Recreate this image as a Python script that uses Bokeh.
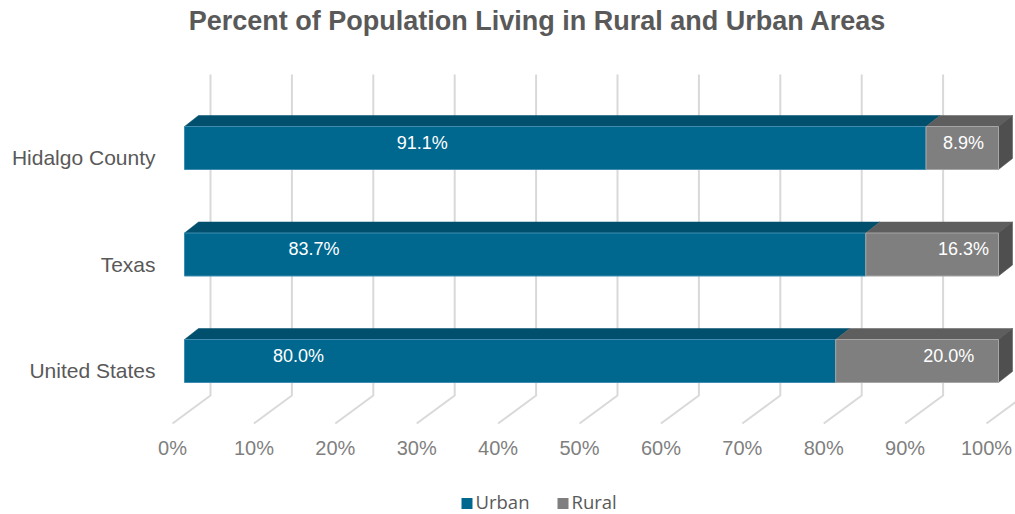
from bokeh.plotting import figure
from bokeh.models import Range1d
from bokeh.core.properties import value
from bokeh.embed import file_html
from bokeh.resources import INLINE

# ---- data ----
categories = ["United States", "Texas", "Hidalgo County"]
urban = [80.0, 83.7, 91.1]
rural = [20.0, 16.3, 8.9]
urban_labels = ["80.0%", "83.7%", "91.1%"]
rural_labels = ["20.0%", "16.3%", "8.9%"]
# where Excel placed the data labels (percent along the bar)
urban_label_pos = [14.0, 15.9, 29.2]
rural_label_pos = [93.9, 95.7, 95.7]
ticks = [0, 10, 20, 30, 40, 50, 60, 70, 80, 90, 100]
tick_labels = ["0%", "10%", "20%", "30%", "40%", "50%", "60%", "70%", "80%", "90%", "100%"]
series = ["Urban", "Rural"]

# ---- layout constants (pixels in the picture) ----
W, H = 1015, 514
ORG = 0                   # picture px of canvas left/top
SX, X0 = 8.14, 172.0      # px per percent, px of 0% on floor front edge
SY, Y0 = 106.5, 360.5     # px per category step, px of first category centre

def px2x(px):
    return (px - X0) / SX

def px2y(py):
    return (Y0 - py) / SY

FLOOR_DX = 38 / SX
FLOOR_DY = 28 / SY
BAR_OFF = 12 / SX
BAR_DX = 14 / SX
BAR_DY = 11 / SY
HALF = 21.5 / SY
floor_front = px2y(423)
floor_back = px2y(395)
grid_top = px2y(74)

URBAN_FRONT, URBAN_TOP = "#00688F", "#004F6C"
RURAL_FRONT, RURAL_TOP, RURAL_SIDE = "#7F7F7F", "#5E5E5E", "#4F4F4F"
GRID = "#D9D9D9"
FONT = value("Liberation Sans")

p = figure(width=W, height=H, output_backend="svg", toolbar_location=None,
           x_range=Range1d(px2x(ORG), px2x(ORG + W)),
           y_range=Range1d(px2y(ORG + H), px2y(ORG)),
           min_border=0, outline_line_color=None)
p.axis.visible = False
p.grid.visible = False

# back wall + floor grid lines
xs, ys = [], []
for t in ticks:
    xs.append([t, t + FLOOR_DX, t + FLOOR_DX])
    ys.append([floor_front, floor_back, grid_top])
p.multi_line(xs, ys, line_color=GRID, line_width=2)

# bars
for i, cat in enumerate(categories):
    c = i
    bot, top = c - HALF, c + HALF
    u0 = BAR_OFF
    u1 = BAR_OFF + urban[i]
    r1 = u1 + rural[i]
    # top faces
    p.patch([u0, u1, u1 + BAR_DX, u0 + BAR_DX], [top, top, top + BAR_DY, top + BAR_DY],
            fill_color=URBAN_TOP, line_color=URBAN_TOP, line_width=0.5)
    p.patch([u1, r1, r1 + BAR_DX, u1 + BAR_DX], [top, top, top + BAR_DY, top + BAR_DY],
            fill_color=RURAL_TOP, line_color=RURAL_TOP, line_width=0.5)
    # side face
    p.patch([r1, r1 + BAR_DX, r1 + BAR_DX, r1], [top, top + BAR_DY, bot + BAR_DY, bot],
            fill_color=RURAL_SIDE, line_color=RURAL_SIDE, line_width=0.5)
    # front faces
    p.quad(left=[u0], right=[u1], bottom=[bot], top=[top],
           fill_color=URBAN_FRONT, line_color="#3E8DB0", line_width=1)
    p.quad(left=[u1], right=[r1], bottom=[bot], top=[top],
           fill_color=RURAL_FRONT, line_color="#A6A6A6", line_width=1)

# data labels
ly = [i + BAR_DY / 2 for i in range(len(categories))]
p.text([BAR_OFF + v for v in urban_label_pos], ly, text=urban_labels,
       text_font=FONT, text_font_size="18px", text_color="white",
       text_align="center", text_baseline="middle")
p.text([BAR_OFF + v for v in rural_label_pos], ly, text=rural_labels,
       text_font=FONT, text_font_size="18px", text_color="white",
       text_align="center", text_baseline="middle")

# category labels
p.text([px2x(155)] * len(categories), [i - 9.5 / SY for i in range(len(categories))],
       text=categories, text_font=FONT, text_font_size="21px", text_color="#595959",
       text_align="right", text_baseline="middle")

# tick labels
p.text(ticks, [px2y(447)] * len(ticks), text=tick_labels, text_font=FONT,
       text_font_size="20px", text_color="#7F7F7F", text_align="center",
       text_baseline="middle")

# title
p.text([px2x(537)], [px2y(20)], text=["Percent of Population Living in Rural and Urban Areas"],
       text_font=FONT, text_font_size="27px", text_font_style="bold",
       text_color="#595959", text_align="center", text_baseline="middle")

# legend
p.scatter([px2x(466.5), px2x(562.5)], [px2y(503)] * 2, marker="square", size=11,
          fill_color=[URBAN_FRONT, RURAL_FRONT], line_color=None)
p.text([px2x(475), px2x(571)], [px2y(501)] * 2, text=series, text_font=value("Open Sans"),
       text_font_size="18.5px", text_color="#595959", text_align="left",
       text_baseline="middle")

open("out.html", "w").write(file_html(p, INLINE))
